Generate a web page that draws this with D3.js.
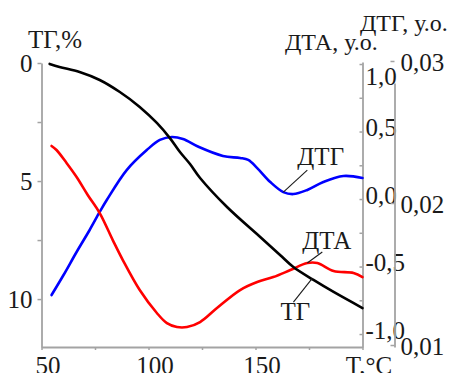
<!DOCTYPE html>
<html><head><meta charset="utf-8">
<script src="https://cdn.jsdelivr.net/npm/d3@7"></script>
<style>
body{margin:0;background:#fff}
svg{display:block}
</style>
</head><body><svg id="c" width="459" height="373"></svg>
<script>
// ---- data ----
const tgT   = [53.8,58.4,67.8,77.2,86.6,95.9,103.9,110,114.7,119.4,124.1,136.7,152.2,161.6,167.7,177.1,186.5,200];
const tgVal = [0.04,0.17,0.38,0.72,1.23,1.86,2.54,3.18,3.77,4.28,4.87,6.10,7.37,8.14,8.64,9.19,9.70,10.38];

const dtgT   = [54.7,60.3,66.4,72.5,77.2,80.5,89.8,99.2,105.3,110.9,116.1,123.6,134.8,142.8,146.6,150.8,156.9,163,167.7,174.2,181.7,191.1,200];
const dtgVal = [0.01352,0.01493,0.01655,0.0181,0.01937,0.02021,0.02232,0.02373,0.02444,0.02465,0.02451,0.02394,0.02331,0.02317,0.02303,0.02246,0.02148,0.02077,0.02063,0.02092,0.02148,0.02190,0.02176];

const dtaT   = [54.7,57.0,61.7,66.4,71.6,77.2,83.3,88.0,95.9,103.9,108.6,113.3,118.0,124.1,132.0,142.8,150.8,158.3,166.3,174.2,178.9,186.5,195.8,200];
const dtaVal = [0.393,0.363,0.267,0.163,0.030,-0.104,-0.304,-0.452,-0.674,-0.844,-0.919,-0.948,-0.948,-0.911,-0.807,-0.674,-0.615,-0.578,-0.526,-0.474,-0.474,-0.533,-0.548,-0.578];

const xTicks      = [50,75,100,125,150,175,200];
const xTickLabels = {50:"50",100:"100",150:"150",200:"T,°C"};
const tgTicks      = [0,2.5,5,7.5,10];
const tgTickLabels = {0:"0",5:"5",10:"10"};
const dtaTicks      = [1,0.75,0.5,0.25,0,-0.25,-0.5,-0.75,-1];
const dtaTickLabels = {"1":"1,0","0.5":"0,5","0":"0,0","-0.5":"-0,5","-1":"-1,0"};
const dtgTicks      = [0.03,0.02,0.01];
const dtgTickLabels = {"0.03":"0,03","0.02":"0,02","0.01":"0,01"};

const titles = {tg:"ТГ,%", dtg:"ДТГ, у.о.", dta:"ДТА, у.о."};
// annotation anchors on the curves
const notes = [
  {label:"ДТГ", T:163,   v:0.02077, s:"dtg"},
  {label:"ДТА", T:174.2, v:-0.474,  s:"dta"},
  {label:"ТГ",  T:176.6, v:9.11,    s:"tg"}
];

// ---- drawing ----
const FONT = "Liberation Serif, DejaVu Serif, Noto Serif, serif";
const svg = d3.select("#c").style("font-family", FONT);
const FS = 25;
const axisGray = "#a3a3a3";
const ink = "#1a1a1a";

const x    = d3.scaleLinear([50,200],[41.5,362.5]);
const yTG  = d3.scaleLinear([0,12.03],[63,347]);
const yDTA = d3.scaleLinear([-1.096,1.015],[347,62]);
const yDTG = d3.scaleLinear([0.00986,0.02845],[347,83]);

function styleAxis(g){
  g.attr("font-family", null).attr("font-size", null).style("font-family", FONT);
  g.selectAll("path.domain").attr("stroke",axisGray).attr("stroke-width",1.8);
  g.selectAll(".tick line").attr("stroke",axisGray).attr("stroke-width",1.5);
  g.selectAll(".tick text").style("font-family", FONT).style("font-size",FS+"px").attr("fill",ink);
}

// bottom axis
svg.append("g").attr("transform","translate(0,347)")
  .call(d3.axisBottom(x).tickValues(xTicks).tickSize(3).tickSizeOuter(0).tickPadding(6)
    .tickFormat(d => xTickLabels[d] || ""))
  .call(styleAxis)
  .call(g => g.selectAll(".tick text").attr("dx",6));

// left axis (TG)
svg.append("g").attr("transform","translate(41.5,0)")
  .call(d3.axisLeft(yTG).tickValues(tgTicks).tickSize(4).tickSizeOuter(0).tickPadding(5)
    .tickFormat(d => tgTickLabels[d] || ""))
  .call(styleAxis);

// right axis 1 (DTA)
svg.append("g").attr("transform","translate(362.5,0)")
  .call(d3.axisRight(yDTA).tickValues(dtaTicks).tickSize(-3).tickSizeOuter(0).tickPadding(3)
    .tickFormat(d => dtaTickLabels[String(d)] || ""))
  .call(styleAxis)
  .call(g => g.selectAll(".tick text").attr("dy", d => d===1 ? "0.8em" : "0.16em"));

// right axis 2 (DTG)
svg.append("g").attr("transform","translate(394.5,0)")
  .call(d3.axisRight(yDTG).tickValues(dtgTicks).tickSize(-4).tickSizeOuter(0).tickPadding(6)
    .tickFormat(d => dtgTickLabels[String(d)] || ""))
  .call(styleAxis)
  .call(g => g.selectAll(".tick text").attr("dy","0.38em"));

// curves
const curve = d3.curveCatmullRom.alpha(0.5);
function drawLine(ts, vs, yS, color){
  const pts = ts.map((t,i)=>[t,vs[i]]);
  svg.append("path").datum(pts)
    .attr("fill","none").attr("stroke",color).attr("stroke-width",2.6)
    .attr("stroke-linecap","round").attr("stroke-linejoin","round")
    .attr("d", d3.line().x(d=>x(d[0])).y(d=>yS(d[1])).curve(curve));
}
drawLine(dtgT, dtgVal, yDTG, "#0000ff");
drawLine(dtaT, dtaVal, yDTA, "#ff0000");
drawLine(tgT,  tgVal,  yTG,  "#000000");

// titles
function label(xp, yp, txt, fs){
  svg.append("text").attr("x",xp).attr("y",yp).style("font-family",FONT)
    .style("font-size",fs+"px").attr("fill",ink).text(txt);
}
label(28, 48, titles.tg, FS);
label(360, 31, titles.dtg, FS-1);
label(285, 50, titles.dta, FS-1);

// curve annotations
const scales = {tg:yTG, dta:yDTA, dtg:yDTG};
const layout = {
  "ДТГ": {lx:24, ly:-22, tx:14,  ty:-27},
  "ДТА": {lx:15, ly:-11, tx:-5,  ty:-14},
  "ТГ":  {lx:-19, ly:24, tx:-32, ty:42}
};
notes.forEach(n => {
  const ax = x(n.T), ay = scales[n.s](n.v), L = layout[n.label];
  svg.append("line").attr("x1",ax).attr("y1",ay).attr("x2",ax+L.lx).attr("y2",ay+L.ly)
    .attr("stroke",ink).attr("stroke-width",1.1);
  label(ax+L.tx, ay+L.ty, n.label, FS);
});
</script>
</body></html>
